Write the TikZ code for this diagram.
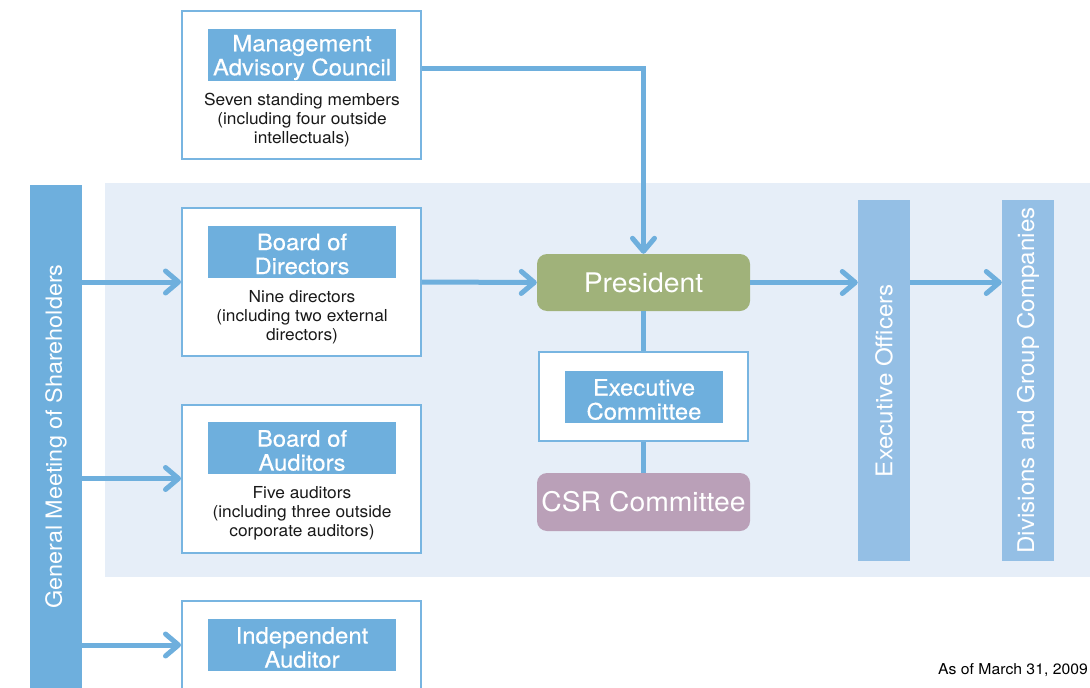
\documentclass[tikz,border=0pt]{standalone}
\usepackage{fontspec}
\setmainfont{TeX Gyre Heros}[FakeStretch=1.05]
\newfontfamily\ttlfont{TeX Gyre Heros}[FakeStretch=1.06, FakeBold=0.4]
\usetikzlibrary{arrows.meta}
\definecolor{cblue}{HTML}{6EAFDD}
\definecolor{cbar}{HTML}{94BFE5}
\definecolor{cband}{HTML}{E6EEF8}
\definecolor{cborder}{HTML}{78B5E1}
\definecolor{cpres}{HTML}{A0B27A}
\definecolor{ccsr}{HTML}{BAA0B8}
\begin{document}
\begin{tikzpicture}[x=1pt,y=-1pt,
  outer/.style={draw=cborder, line width=2pt, fill=white, inner sep=0pt},
  ttl/.style={fill=cblue, inner sep=0pt, minimum width=188pt, minimum height=52pt},
  ttltxt/.style={text=white, inner sep=0pt, align=center, font=\ttlfont\fontsize{22.5}{24}\selectfont},
  sub/.style={align=center, font=\fontsize{16.5}{19}\selectfont, inner sep=0pt, text=black!90},
  conn/.style={draw=cblue, line width=5pt},
  arr/.style={conn, -{Straight Barb[length=13pt,width=22pt,round]}},
  bar/.style={fill=cblue, inner sep=0pt, text=white, minimum width=52pt, font=\fontsize{23}{24}\selectfont},
  pill/.style={rounded corners=10pt, inner sep=0pt, minimum width=213pt, minimum height=57pt, text=white, font=\fontsize{27}{30}\selectfont}
]
\useasboundingbox (0,0) rectangle (1090,688);
\fill[cband] (105,183) rectangle (1090,577);

% shareholders bar
\node[bar, minimum height=503pt, font=\fontsize{22.3}{24}\selectfont] (sh) at (56,436.5) {\rotatebox{90}{General Meeting of Shareholders}};

% Management Advisory Council
\node[outer, minimum width=239pt, minimum height=148pt] (mac) at (301.5,85) {};
\node[ttl] (mact) at (302,55) {};
\node[ttltxt] (mactx) at (302,57.5) {Management\\Advisory Council};
\node[sub] (macs) at (302,120) {Seven standing members\\(including four outside\\intellectuals)};

% Board of Directors
\node[outer, minimum width=239pt, minimum height=148pt] (bod) at (301.5,282) {};
\node[ttl] (bodt) at (302,251.5) {};
\node[ttltxt] (bodtx) at (302,254) {Board of\\Directors};
\node[sub] (bods) at (302,317) {Nine directors\\(including two external\\directors)};

% Board of Auditors
\node[outer, minimum width=239pt, minimum height=148pt] (boa) at (301.5,478.5) {};
\node[ttl] (boat) at (302,448) {};
\node[ttltxt] (boatx) at (302,450.5) {Board of\\Auditors};
\node[sub] (boas) at (302,513.5) {Five auditors\\(including three outside\\corporate auditors)};

% Independent Auditor
\begin{scope}
\clip (0,0) rectangle (1090,688);
\node[outer, minimum width=239pt, minimum height=110pt] (ia) at (301.5,656) {};
\end{scope}
\node[ttl] (iat) at (302,645) {};
\node[ttltxt] (iatx) at (302,647.5) {Independent\\Auditor};

% President, Executive Committee, CSR
\node[pill, fill=cpres] (pres) at (643.5,282.5) {President};
\node[outer, minimum width=209pt, minimum height=89pt] (ec) at (643.5,396.5) {};
\node[ttl, minimum width=158pt] (ect) at (644,397) {};
\node[ttltxt] (ectx) at (644,399.5) {Executive\\Committee};
\node[pill, fill=ccsr, minimum height=58pt] (csr) at (643.5,502) {CSR Committee};

% right bars
\node[bar, fill=cbar, minimum height=361pt] (eo) at (884,380.5) {\rotatebox{90}{Executive Officers}};
\node[bar, fill=cbar, minimum height=361pt] (div) at (1028,380.5) {\rotatebox{90}{Divisions and Group Companies}};

% date
\node[anchor=base east, inner sep=0pt, font=\fontsize{15}{18}\selectfont] (date) at (1088,674.5) {As of March 31, 2009};

% connectors
\draw[arr] (sh.east |- bod.west) -- (bod.west);
\draw[arr] (sh.east |- boa.west) -- (boa.west);
\draw[arr] (sh.east |- iat) -- (ia.west |- iat);
\draw[arr] ([yshift=17pt]mac.east) -| (pres.north);
\draw[arr] (bod.east) -- (pres.west);
\draw[arr] (pres.east) -- (pres.east -| eo.west);
\draw[arr] (pres.east -| eo.east) -- (pres.east -| div.west);
\draw[conn] (pres.south) -- (ec.north);
\draw[conn] (ec.south) -- (csr.north);
\end{tikzpicture}
\end{document}
